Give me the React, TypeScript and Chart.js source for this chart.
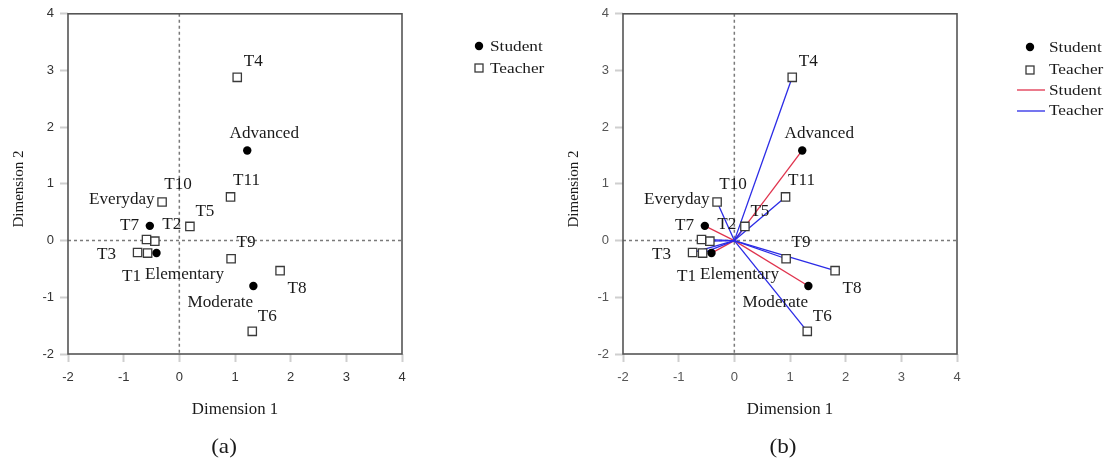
import React, { useEffect, useRef } from 'react';
import { Chart, registerables } from 'chart.js';

Chart.register(...registerables);

// ---- data ----
const studentLabels = ['Advanced', 'Everyday', 'Elementary', 'Moderate'];
const studentDim1 = [1.22, -0.53, -0.41, 1.33];
const studentDim2 = [1.59, 0.26, -0.22, -0.8];

const teacherLabels = ['T1', 'T2', 'T3', 'T4', 'T5', 'T6', 'T7', 'T8', 'T9', 'T10', 'T11'];
const teacherDim1 = [-0.57, -0.44, -0.75, 1.04, 0.19, 1.31, -0.59, 1.81, 0.93, -0.31, 0.92];
const teacherDim2 = [-0.22, -0.01, -0.21, 2.88, 0.25, -1.6, 0.02, -0.53, -0.32, 0.68, 0.77];

const axisMin = -2;
const axisMax = 4;
const xTitle = 'Dimension 1';
const yTitle = 'Dimension 2';
const panelCaptions = ['(a)', '(b)'];
const seriesNames = ['Student', 'Teacher'];

// label placement (pixel offset of the label centre from its point)
const labelOffsets: Record<string, [number, number]> = {
  Advanced: [17, -17],
  Everyday: [-28, -26],
  Elementary: [28, 22],
  Moderate: [-33, 17],
  T1: [-16, 24],
  T2: [17, -16],
  T3: [-31, 2],
  T4: [16, -16],
  T5: [15, -15],
  T6: [15, -15],
  T7: [-17, -14],
  T8: [17, 18],
  T9: [15, -16],
  T10: [16, -17],
  T11: [16, -16],
};

const SERIF = '"Liberation Serif", "Times New Roman", serif';
const SANS = '"Liberation Sans", Arial, sans-serif';
const RED = '#e0344e';
const BLUE = '#2b2be6';

function drawText(
  ctx: CanvasRenderingContext2D,
  text: string,
  x: number,
  y: number,
  size: number,
  sx = 1,
  align: CanvasTextAlign = 'center',
  color = '#1a1a1a',
  rotate = 0
) {
  ctx.save();
  ctx.translate(x, y);
  if (rotate) ctx.rotate(rotate);
  ctx.scale(sx, 1);
  ctx.font = `${size}px ${SERIF}`;
  ctx.fillStyle = color;
  ctx.textAlign = align;
  ctx.textBaseline = 'middle';
  ctx.fillText(text, 0, 0);
  ctx.restore();
}

function makeChart(canvas: HTMLCanvasElement, variant: 'a' | 'b') {
  const studentPts = studentDim1.map((x, i) => ({ x, y: studentDim2[i] }));
  const teacherPts = teacherDim1.map((x, i) => ({ x, y: teacherDim2[i] }));

  const datasets: any[] = [
    {
      label: seriesNames[0],
      data: studentPts,
      pointStyle: 'circle',
      pointRadius: 4.2,
      backgroundColor: '#000',
      borderColor: '#000',
      borderWidth: 0,
      order: 0,
    },
    {
      label: seriesNames[1],
      data: teacherPts,
      pointStyle: 'rect',
      pointRadius: 5.9,
      backgroundColor: '#fff',
      borderColor: '#3a3a3a',
      borderWidth: 1.3,
      order: 0,
    },
  ];

  if (variant === 'b') {
    studentPts.forEach((p) => {
      datasets.push({
        type: 'line',
        label: seriesNames[0] + ' vector',
        data: [{ x: 0, y: 0 }, p],
        borderColor: RED,
        borderWidth: 1.3,
        pointRadius: 0,
        showLine: true,
        fill: false,
        order: 2,
      });
    });
    teacherPts.forEach((p) => {
      datasets.push({
        type: 'line',
        label: seriesNames[1] + ' vector',
        data: [{ x: 0, y: 0 }, p],
        borderColor: BLUE,
        borderWidth: 1.3,
        pointRadius: 0,
        showLine: true,
        fill: false,
        order: 1,
      });
    });
  }

  const tickColor = variant === 'a' ? '#333' : '#555';

  const decor = {
    id: 'decor' + variant,
    beforeDatasetsDraw(chart: any) {
      const { ctx, chartArea: ca, scales } = chart;
      const x0 = scales.x.getPixelForValue(0);
      const y0 = scales.y.getPixelForValue(0);
      ctx.save();
      ctx.strokeStyle = '#7a7a7a';
      ctx.lineWidth = 1.5;
      ctx.setLineDash([3, 3]);
      ctx.beginPath();
      ctx.moveTo(x0, ca.top);
      ctx.lineTo(x0, ca.bottom);
      ctx.moveTo(ca.left, y0);
      ctx.lineTo(ca.right, y0);
      ctx.stroke();
      ctx.setLineDash([]);
      ctx.strokeStyle = '#555';
      ctx.lineWidth = 1.6;
      ctx.strokeRect(ca.left, ca.top, ca.right - ca.left, ca.bottom - ca.top);
      ctx.restore();
    },
    afterDraw(chart: any) {
      const { ctx, chartArea: ca, scales } = chart;
      const sx = scales.x;
      const sy = scales.y;
      const labelPoint = (name: string, vx: number, vy: number) => {
        const off = labelOffsets[name] || [12, -12];
        drawText(ctx, name, sx.getPixelForValue(vx) + off[0], sy.getPixelForValue(vy) + off[1], 16, 1.07);
      };
      studentLabels.forEach((n, i) => labelPoint(n, studentDim1[i], studentDim2[i]));
      teacherLabels.forEach((n, i) => labelPoint(n, teacherDim1[i], teacherDim2[i]));

      // axis titles and caption
      const cx = (ca.left + ca.right) / 2;
      drawText(ctx, xTitle, cx, 410, 16, 1.05);
      drawText(ctx, yTitle, 19, 189, 15, 1, 'center', '#1a1a1a', -Math.PI / 2);
      drawText(ctx, panelCaptions[variant === 'a' ? 0 : 1], variant === 'a' ? 224 : 228, 447, 22, 1.05);

      // legend
      ctx.save();
      if (variant === 'a') {
        const mx = 479;
        const tx = 490;
        ctx.fillStyle = '#000';
        ctx.beginPath();
        ctx.arc(mx, 46, 4.2, 0, Math.PI * 2);
        ctx.fill();
        ctx.strokeStyle = '#3a3a3a';
        ctx.lineWidth = 1.3;
        ctx.fillStyle = '#fff';
        ctx.fillRect(mx - 4, 68 - 4, 8, 8);
        ctx.strokeRect(mx - 4, 68 - 4, 8, 8);
        drawText(ctx, seriesNames[0], tx, 47, 15, 1.15, 'left');
        drawText(ctx, seriesNames[1], tx, 69, 15, 1.15, 'left');
      } else {
        const mx = 475;
        const tx = 494;
        ctx.fillStyle = '#000';
        ctx.beginPath();
        ctx.arc(mx, 47, 4.2, 0, Math.PI * 2);
        ctx.fill();
        ctx.strokeStyle = '#3a3a3a';
        ctx.lineWidth = 1.3;
        ctx.fillStyle = '#fff';
        ctx.fillRect(mx - 4, 70 - 4, 8, 8);
        ctx.strokeRect(mx - 4, 70 - 4, 8, 8);
        ctx.lineWidth = 1.3;
        ctx.strokeStyle = RED;
        ctx.beginPath();
        ctx.moveTo(462, 90);
        ctx.lineTo(490, 90);
        ctx.stroke();
        ctx.strokeStyle = BLUE;
        ctx.beginPath();
        ctx.moveTo(462, 111);
        ctx.lineTo(490, 111);
        ctx.stroke();
        drawText(ctx, seriesNames[0], tx, 48, 15, 1.15, 'left');
        drawText(ctx, seriesNames[1], tx, 70, 15, 1.15, 'left');
        drawText(ctx, seriesNames[0], tx, 91, 15, 1.15, 'left');
        drawText(ctx, seriesNames[1], tx, 111, 15, 1.15, 'left');
      }
      ctx.restore();
    },
  };

  const scaleCommon = (axis: 'x' | 'y') => ({
    type: 'linear',
    min: axisMin,
    max: axisMax,
    ticks: {
      stepSize: 1,
      color: tickColor,
      font: { family: SANS, size: 13 },
      padding: axis === 'x' ? 8 : 6,
    },
    grid: {
      display: true,
      drawOnChartArea: false,
      drawTicks: true,
      tickLength: 8,
      tickColor: '#cfcfcf',
      tickWidth: 2,
    },
    border: { display: false },
    afterFit: (scale: any) => {
      if (axis === 'x') scale.height = 108;
      else scale.width = 68;
    },
  });

  return new Chart(canvas, {
    type: 'scatter',
    data: { datasets },
    options: {
      responsive: false,
      animation: false,
      devicePixelRatio: 1,
      layout: { padding: { left: 0, top: 12, right: 153, bottom: 0 } },
      plugins: {
        legend: { display: false },
        tooltip: { enabled: false },
        title: { display: false },
      },
      scales: {
        x: scaleCommon('x') as any,
        y: scaleCommon('y') as any,
      },
    },
    plugins: [decor],
  });
}

function Panel({ variant, left }: { variant: 'a' | 'b'; left: number }) {
  const ref = useRef<HTMLCanvasElement | null>(null);
  useEffect(() => {
    if (!ref.current) return;
    const chart = makeChart(ref.current, variant);
    return () => chart.destroy();
  }, [variant]);
  return (
    <canvas
      ref={ref}
      width={555}
      height={462}
      style={{ position: 'absolute', left, top: 0, width: 555, height: 462, display: 'block' }}
    />
  );
}

export default function App() {
  return (
    <div style={{ position: 'absolute', left: 0, top: 0, width: 1110, height: 462, background: '#fff' }}>
      <Panel variant="a" left={0} />
      <Panel variant="b" left={555} />
    </div>
  );
}
